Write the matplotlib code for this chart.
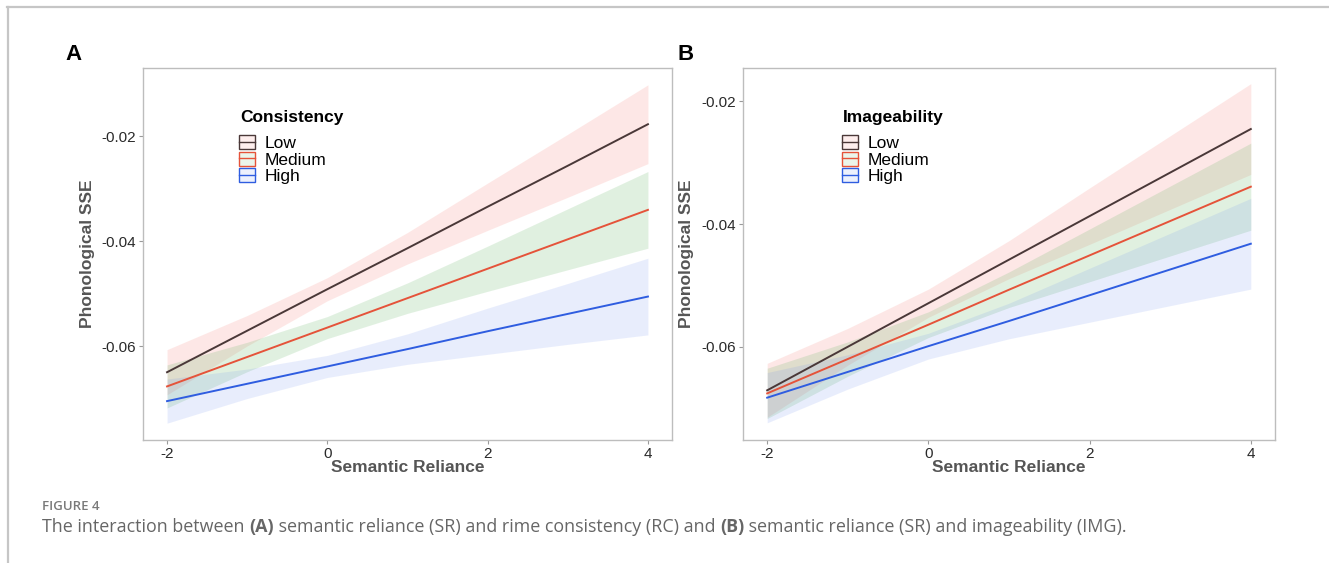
import matplotlib
matplotlib.use("Agg")
import matplotlib.pyplot as plt
from matplotlib.lines import Line2D
from matplotlib.patches import Patch

# semantic reliance values where the effects were evaluated
sr = [-2, -1, 0, 1, 2, 3, 4]
levels = ["Low", "Medium", "High"]

# panel A: consistency
a_fit = {
    "Low":    [-0.0649, -0.0570, -0.0491, -0.0413, -0.0334, -0.0256, -0.0177],
    "Medium": [-0.0676, -0.0620, -0.0564, -0.0508, -0.0452, -0.0396, -0.0340],
    "High":   [-0.0704, -0.0671, -0.0638, -0.0605, -0.0571, -0.0538, -0.0505],
}
a_upper = {
    "Low":    [-0.0606, -0.0541, -0.0469, -0.0383, -0.0289, -0.0196, -0.0102],
    "Medium": [-0.0635, -0.0592, -0.0543, -0.0479, -0.0409, -0.0338, -0.0267],
    "High":   [-0.0662, -0.0643, -0.0617, -0.0576, -0.0527, -0.0480, -0.0432],
}
a_lower = {
    "Low":    [-0.0692, -0.0599, -0.0513, -0.0443, -0.0379, -0.0316, -0.0252],
    "Medium": [-0.0717, -0.0648, -0.0585, -0.0537, -0.0495, -0.0454, -0.0413],
    "High":   [-0.0746, -0.0699, -0.0659, -0.0634, -0.0615, -0.0596, -0.0578],
}

# panel B: imageability
b_fit = {
    "Low":    [-0.0671, -0.0600, -0.0529, -0.0458, -0.0387, -0.0316, -0.0245],
    "Medium": [-0.0676, -0.0620, -0.0564, -0.0507, -0.0451, -0.0395, -0.0339],
    "High":   [-0.0683, -0.0641, -0.0599, -0.0558, -0.0516, -0.0474, -0.0432],
}
b_upper = {
    "Low":    [-0.0627, -0.0570, -0.0506, -0.0427, -0.0341, -0.0256, -0.0171],
    "Medium": [-0.0635, -0.0592, -0.0543, -0.0478, -0.0408, -0.0338, -0.0268],
    "High":   [-0.0642, -0.0613, -0.0578, -0.0529, -0.0472, -0.0415, -0.0358],
}
b_lower = {
    "Low":    [-0.0715, -0.0630, -0.0552, -0.0489, -0.0433, -0.0376, -0.0319],
    "Medium": [-0.0717, -0.0648, -0.0585, -0.0536, -0.0494, -0.0452, -0.0410],
    "High":   [-0.0724, -0.0669, -0.0620, -0.0587, -0.0560, -0.0533, -0.0506],
}

x_ticks = [-2, 0, 2, 4]
y_ticks = [-0.06, -0.04, -0.02]
y_tick_labels = ["-0.06", "-0.04", "-0.02"]

line_colors = {"Low": "#4a3838", "Medium": "#e5533a", "High": "#2f5de0"}
fill_colors = {"Low": "#f8766d", "Medium": "#5fb35f", "High": "#6b8cf0"}
fill_alpha = {"Low": 0.17, "Medium": 0.19, "High": 0.15}

tick_font = ["Liberation Sans", "DejaVu Sans"]
cap_font = ["Open Sans", "DejaVu Sans"]

fig = plt.figure(figsize=(13.29, 5.63), dpi=100)

# page frame lines
fig.add_artist(Line2D([7 / 1329, 1.0], [1 - 7 / 563, 1 - 7 / 563],
                      transform=fig.transFigure, color="#c6c6c6", lw=1.6))
fig.add_artist(Line2D([8 / 1329, 8 / 1329], [1 - 7 / 563, 0.0],
                      transform=fig.transFigure, color="#c6c6c6", lw=1.6))


def draw_panel(rect, fit, upper, lower, ylim, title, letter, letter_x,
               leg_x, ylab_x):
    ax = fig.add_axes(rect)
    for lv in levels:
        ax.fill_between(sr, lower[lv], upper[lv], color=fill_colors[lv],
                        alpha=fill_alpha[lv], lw=0)
    for lv in levels:
        ax.plot(sr, fit[lv], color=line_colors[lv], lw=1.4)
    ax.set_xlim(-2.3, 4.3)
    ax.set_ylim(*ylim)
    ax.set_xticks(x_ticks)
    ax.set_xticklabels([str(v) for v in x_ticks])
    ax.set_yticks(y_ticks)
    ax.set_yticklabels(y_tick_labels)
    for s in ax.spines.values():
        s.set_color("#bdbdbd")
        s.set_linewidth(1.0)
    ax.tick_params(length=3, width=0.8, color="#9a9a9a", labelsize=11,
                   labelcolor="#2a2a2a", pad=2)
    for lab in ax.get_xticklabels() + ax.get_yticklabels():
        lab.set_family(tick_font)
    ax.set_xlabel("Semantic Reliance", fontsize=12.5, fontweight="bold",
                  color="#555555", family=tick_font, labelpad=-1)
    ax.set_ylabel("Phonological SSE", fontsize=12.5, fontweight="bold",
                  color="#555555", family=tick_font)
    ax.yaxis.set_label_coords(ylab_x, 0.5)

    # legend title drawn as its own text so the gap matches ggplot
    ax.text(leg_x, 0.868, title, transform=ax.transAxes, fontsize=12.5,
            fontweight="bold", family=tick_font, va="center", ha="left")
    handles = [(Patch(facecolor=fill_colors[lv], alpha=0.12, edgecolor="none"),
                Patch(facecolor="none", edgecolor=line_colors[lv], lw=1.0),
                Line2D([], [], color=line_colors[lv], lw=1.0))
               for lv in levels]
    ax.legend(handles, levels, loc="upper left",
              bbox_to_anchor=(leg_x - 0.002, 0.82), frameon=False,
              prop={"family": tick_font, "size": 12.5},
              handlelength=0.95, handleheight=0.9, handletextpad=0.55,
              labelspacing=0.02, borderpad=0, borderaxespad=0)

    fig.text(letter_x, 1 - 55 / 563, letter, fontsize=16, fontweight="bold",
             family=tick_font, ha="center", va="center")
    return ax


ax_a = draw_panel([143 / 1329, 1 - 440 / 563, 529 / 1329, 372 / 563],
                  a_fit, a_upper, a_lower, (-0.0778, -0.0070),
                  "Consistency", "A", 73 / 1329, 0.183, -0.091)
ax_b = draw_panel([743 / 1329, 1 - 440 / 563, 532 / 1329, 372 / 563],
                  b_fit, b_upper, b_lower, (-0.0752, -0.01455),
                  "Imageability", "B", 686 / 1329, 0.188, -0.093)

# caption
fig.text(42 / 1329, 1 - 506 / 563, "FIGURE 4", fontsize=9.5, color="#7a7a7a",
         family=cap_font, fontweight="semibold", va="center")

caption = [("The interaction between ", "normal"), ("(A)", "bold"),
           (" semantic reliance (SR) and rime consistency (RC) and ", "normal"),
           ("(B)", "bold"),
           (" semantic reliance (SR) and imageability (IMG).", "normal")]
fig.canvas.draw()
renderer = fig.canvas.get_renderer()
x_px = 42
for txt, wt in caption:
    t = fig.text(x_px / 1329, 1 - 532 / 563, txt, fontsize=12.9,
                 color="#666666", family=cap_font, fontweight=wt,
                 va="baseline")
    x_px += t.get_window_extent(renderer).width

fig.savefig("out.png", dpi=100)
